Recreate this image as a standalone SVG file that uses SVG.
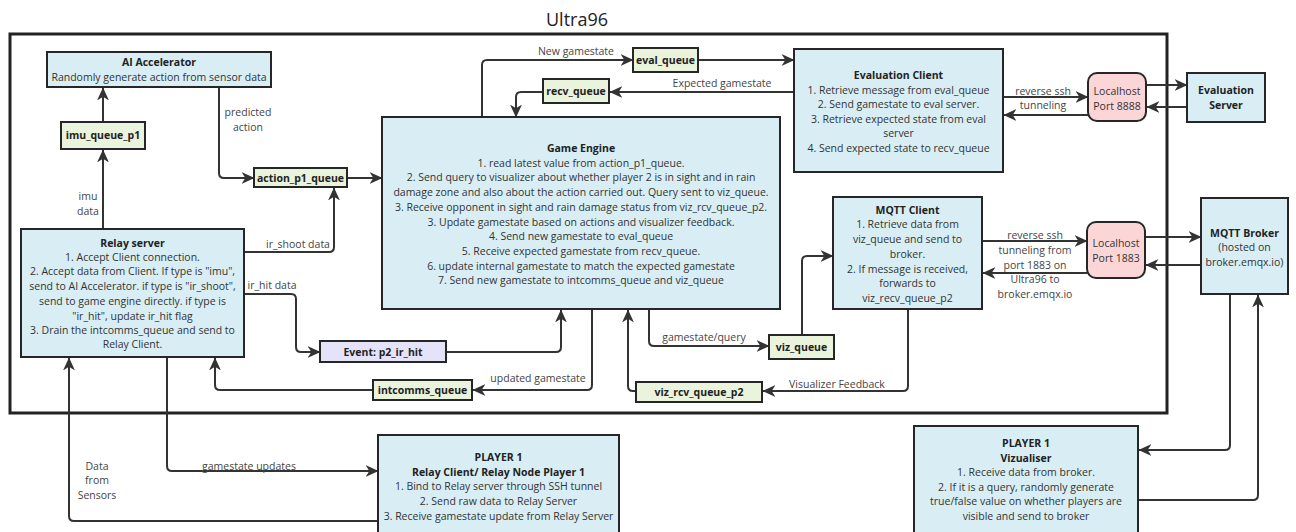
<svg xmlns="http://www.w3.org/2000/svg" width="1296" height="532" viewBox="0 0 1296 532">
  <defs>
    <marker id="arr" viewBox="0 0 12 12" refX="11.5" refY="6" markerWidth="13" markerHeight="13" markerUnits="userSpaceOnUse" orient="auto">
      <path d="M0,0.5 L12,6 L0,11.5 L3.5,6 z" fill="#333"/>
    </marker>
    <style>
      text { font-family: "Open Sans", "Liberation Sans", sans-serif; fill: #333; }
      .t { font-size: 10.5px; text-anchor: middle; }
      .b { font-weight: bold; fill: #222; }
      .lbl { font-size: 10.5px; text-anchor: middle; fill: #444; }
      .proc { fill: #d8eef4; stroke: #262626; stroke-width: 2; }
      .queue { fill: #eaf3dc; stroke: #262626; stroke-width: 2; }
      .event { fill: #e5e3fa; stroke: #262626; stroke-width: 2; }
      .port { fill: #fcd6d6; stroke: #262626; stroke-width: 2; }
      .conn path { fill: none; stroke: #333; stroke-width: 2; stroke-linejoin: round; }
      .arrow { marker-end: url(#arr); }
    </style>
  </defs>

  <rect width="1296" height="532" fill="#ffffff"/>

  <!-- Ultra96 board frame -->
  <g id="ultra96-frame">
    <rect x="10" y="34" width="1157" height="379" fill="none" stroke="#222" stroke-width="3"/>
    <text x="577" y="26" style="font-size:18px; text-anchor:middle; fill:#222;">Ultra96</text>
  </g>

  <!-- Connectors -->
  <g id="connectors" class="conn">
    <path class="arrow" d="M103,122 L103,88"/>
    <path class="arrow" d="M103,229 L103,150"/>
    <path class="arrow" d="M219,87 L219,173 Q219,178 224,178 L254,178"/>
    <path class="arrow" d="M347,178 L382,178"/>
    <path class="arrow" d="M244,252 L329,252 Q334,252 334,247 L334,188"/>
    <path class="arrow" d="M244,294 L291,294 Q296,294 296,299 L296,347 Q296,352 301,352 L320,352"/>
    <path class="arrow" d="M446,352 L556,352 Q561,352 561,347 L561,310"/>
    <path class="arrow" d="M592,309 L592,385 Q592,390 587,390 L473,390"/>
    <path class="arrow" d="M373,390 L220,390 Q215,390 215,385 L215,358"/>
    <path class="arrow" d="M482,117 L482,65 Q482,60 487,60 L633,60"/>
    <path class="arrow" d="M698,60 L794,60"/>
    <path class="arrow" d="M794,92 L610,92"/>
    <path class="arrow" d="M543,92 L521,92 Q516,92 516,97 L516,117"/>
    <path class="arrow" d="M1003,97 L1088,97"/>
    <path class="arrow" d="M1088,115 L1004,115"/>
    <path class="arrow" d="M1146,85 L1187,85"/>
    <path class="arrow" d="M1187,107 L1147,107"/>
    <path class="arrow" d="M649,309 L649,341 Q649,346 654,346 L769,346"/>
    <path class="arrow" d="M802,335 L802,261 Q802,256 807,256 L833,256"/>
    <path class="arrow" d="M908,309 L908,386 Q908,391 903,391 L763,391"/>
    <path class="arrow" d="M636,391 L633,391 Q628,391 628,386 L628,310"/>
    <path class="arrow" d="M982,241 L1087,241"/>
    <path class="arrow" d="M1087,273 L983,273"/>
    <path class="arrow" d="M1145,237 L1201,237"/>
    <path class="arrow" d="M1201,265 L1146,265"/>
    <path class="arrow" d="M1230,294 L1230,445 Q1230,450 1225,450 L1139,450"/>
    <path class="arrow" d="M1138,500 L1253,500 Q1258,500 1258,495 L1258,295"/>
    <path class="arrow" d="M167,357 L167,466 Q167,471 172,471 L378,471"/>
    <path class="arrow" d="M378,521 L74,521 Q69,521 69,516 L69,358"/>

    <text class="lbl" x="248" y="116">predicted</text>
    <text class="lbl" x="248" y="131">action</text>
    <text class="lbl" x="88" y="200">imu</text>
    <text class="lbl" x="88" y="215">data</text>
    <text class="lbl" x="298" y="248">ir_shoot data</text>
    <text class="lbl" x="272" y="289">ir_hit data</text>
    <text class="lbl" x="538" y="382">updated gamestate</text>
    <text class="lbl" x="576" y="55">New gamestate</text>
    <text class="lbl" x="722" y="87">Expected gamestate</text>
    <text class="lbl" x="1043" y="95">reverse ssh</text>
    <text class="lbl" x="1043" y="109">tunneling</text>
    <text class="lbl" x="1035" y="239">reverse ssh</text>
    <text class="lbl" x="1035" y="254">tunneling from</text>
    <text class="lbl" x="1035" y="269">port 1883 on</text>
    <text class="lbl" x="1035" y="283">Ultra96 to</text>
    <text class="lbl" x="1035" y="298">broker.emqx.io</text>
    <text class="lbl" x="704" y="341">gamestate/query</text>
    <text class="lbl" x="837" y="388">Visualizer Feedback</text>
    <text class="lbl" x="249" y="470">gamestate updates</text>
    <text class="lbl" x="97" y="470">Data</text>
    <text class="lbl" x="97" y="484">from</text>
    <text class="lbl" x="97" y="499">Sensors</text>
  </g>

  <!-- Nodes -->
  <g id="ai-accelerator">
    <rect class="proc" x="47" y="52" width="224" height="35"/>
    <text class="t b" x="159" y="66">AI Accelerator</text>
    <text class="t" x="159" y="81">Randomly generate action from sensor data</text>
  </g>

  <g id="imu-queue-p1">
    <rect class="queue" x="61" y="122" width="84" height="27"/>
    <text class="t b" x="103" y="139">imu_queue_p1</text>
  </g>

  <g id="action-p1-queue">
    <rect class="queue" x="254" y="168" width="93" height="19"/>
    <text class="t b" x="300.5" y="181.5">action_p1_queue</text>
  </g>

  <g id="relay-server">
    <rect class="proc" x="21" y="229" width="223" height="128"/>
    <text class="t b" x="132.5" y="247">Relay server</text>
    <text class="t" x="132.5" y="261">1. Accept Client connection.</text>
    <text class="t" x="132.5" y="275">2. Accept data from Client. If type is "imu",</text>
    <text class="t" x="132.5" y="290">send to AI Accelerator. if type is "ir_shoot",</text>
    <text class="t" x="132.5" y="305">send to game engine directly. if type is</text>
    <text class="t" x="132.5" y="320">"ir_hit", update ir_hit flag</text>
    <text class="t" x="132.5" y="334">3. Drain the intcomms_queue and send to</text>
    <text class="t" x="132.5" y="348">Relay Client.</text>
  </g>

  <g id="game-engine">
    <rect class="proc" x="382" y="117" width="398" height="192"/>
    <text class="t b" x="581" y="152">Game Engine</text>
    <text class="t" x="581" y="167">1. read latest value from action_p1_queue.</text>
    <text class="t" x="581" y="181">2. Send query to visualizer about whether player 2 is in sight and in rain</text>
    <text class="t" x="581" y="196">damage zone and also about the action carried out. Query sent to viz_queue.</text>
    <text class="t" x="581" y="211">3. Receive opponent in sight and rain damage status from viz_rcv_queue_p2.</text>
    <text class="t" x="581" y="226">3. Update gamestate based on actions and visualizer feedback.</text>
    <text class="t" x="581" y="240">4. Send new gamestate to eval_queue</text>
    <text class="t" x="581" y="255">5. Receive expected gamestate from recv_queue.</text>
    <text class="t" x="581" y="270">6. update internal gamestate to match the expected gamestate</text>
    <text class="t" x="581" y="284">7. Send new gamestate to intcomms_queue and viz_queue</text>
  </g>

  <g id="eval-queue">
    <rect class="queue" x="633" y="48" width="65" height="24"/>
    <text class="t b" x="665.5" y="64">eval_queue</text>
  </g>

  <g id="recv-queue">
    <rect class="queue" x="543" y="79" width="66" height="24"/>
    <text class="t b" x="576" y="95">recv_queue</text>
  </g>

  <g id="evaluation-client">
    <rect class="proc" x="794" y="49" width="209" height="123"/>
    <text class="t b" x="898.5" y="79">Evaluation Client</text>
    <text class="t" x="898.5" y="94">1. Retrieve message from eval_queue</text>
    <text class="t" x="898.5" y="108">2. Send gamestate to eval server.</text>
    <text class="t" x="898.5" y="123">3. Retrieve expected state from eval</text>
    <text class="t" x="898.5" y="137">server</text>
    <text class="t" x="898.5" y="152">4. Send expected state to recv_queue</text>
  </g>

  <g id="localhost-8888">
    <rect class="port" x="1088" y="73" width="58" height="48" rx="9"/>
    <text class="t" x="1117" y="95">Localhost</text>
    <text class="t" x="1117" y="110">Port 8888</text>
  </g>

  <g id="evaluation-server">
    <rect class="proc" x="1187" y="73" width="78" height="49"/>
    <text class="t b" x="1226" y="94">Evaluation</text>
    <text class="t b" x="1226" y="109">Server</text>
  </g>

  <g id="event-p2-ir-hit">
    <rect class="event" x="320" y="341" width="126" height="21"/>
    <text class="t b" x="383" y="356">Event: p2_ir_hit</text>
  </g>

  <g id="intcomms-queue">
    <rect class="queue" x="373" y="380" width="99" height="20"/>
    <text class="t b" x="422.5" y="394">intcomms_queue</text>
  </g>

  <g id="viz-queue">
    <rect class="queue" x="769" y="335" width="65" height="24"/>
    <text class="t b" x="801.5" y="351">viz_queue</text>
  </g>

  <g id="viz-rcv-queue-p2">
    <rect class="queue" x="636" y="382" width="126" height="20"/>
    <text class="t b" x="699" y="396">viz_rcv_queue_p2</text>
  </g>

  <g id="mqtt-client">
    <rect class="proc" x="833" y="197" width="149" height="112"/>
    <text class="t b" x="907.5" y="214">MQTT Client</text>
    <text class="t" x="907.5" y="228">1. Retrieve data from</text>
    <text class="t" x="907.5" y="243">viz_queue and send to</text>
    <text class="t" x="907.5" y="258">broker.</text>
    <text class="t" x="907.5" y="273">2. If message is received,</text>
    <text class="t" x="907.5" y="287">forwards to</text>
    <text class="t" x="907.5" y="302">viz_recv_queue_p2</text>
  </g>

  <g id="localhost-1883">
    <rect class="port" x="1087" y="222" width="58" height="56" rx="9"/>
    <text class="t" x="1116" y="247">Localhost</text>
    <text class="t" x="1116" y="262">Port 1883</text>
  </g>

  <g id="mqtt-broker">
    <rect class="proc" x="1201" y="198" width="87" height="96"/>
    <text class="t b" x="1244.5" y="237">MQTT Broker</text>
    <text class="t" x="1244.5" y="251">(hosted on</text>
    <text class="t" x="1244.5" y="266">broker.emqx.io)</text>
  </g>

  <g id="relay-client">
    <rect class="proc" x="378" y="435" width="241" height="110"/>
    <text class="t b" x="498.5" y="461">PLAYER 1</text>
    <text class="t b" x="498.5" y="476">Relay Client/ Relay Node Player 1</text>
    <text class="t" x="498.5" y="490">1. Bind to Relay server through SSH tunnel</text>
    <text class="t" x="498.5" y="505">2. Send raw data to Relay Server</text>
    <text class="t" x="498.5" y="520">3. Receive gamestate update from Relay Server</text>
  </g>

  <g id="vizualiser">
    <rect class="proc" x="914" y="426" width="224" height="120"/>
    <text class="t b" x="1026" y="447">PLAYER 1</text>
    <text class="t b" x="1026" y="462">Vizualiser</text>
    <text class="t" x="1026" y="476">1. Receive data from broker.</text>
    <text class="t" x="1026" y="491">2. If it is a query, randomly generate</text>
    <text class="t" x="1026" y="505">true/false value on whether players are</text>
    <text class="t" x="1026" y="520">visible and send to broker</text>
  </g>
</svg>
